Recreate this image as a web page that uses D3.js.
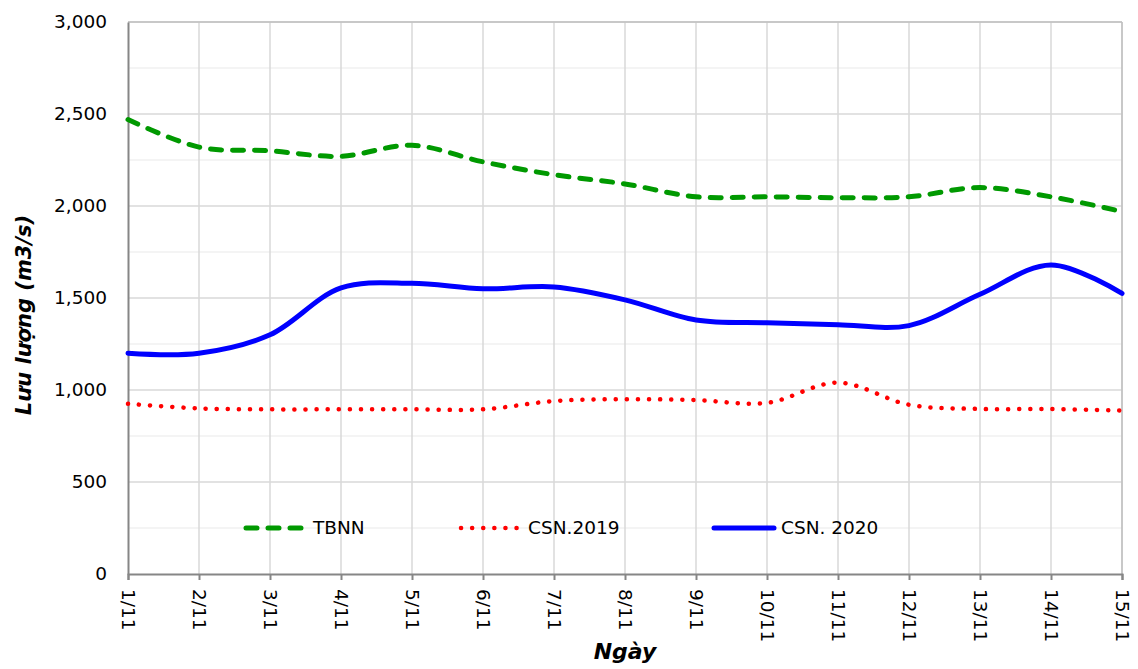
<!DOCTYPE html>
<html>
<head>
<meta charset="utf-8">
<script src="https://cdn.jsdelivr.net/npm/d3@7"></script>
<style>
  body { margin: 0; background: #fff; }
  text { font-family: "DejaVu Sans", Verdana, sans-serif; fill: #000; }
</style>
</head>
<body>
<div id="graph"></div>
<script>
'use strict';

const days = ['1/11', '2/11', '3/11', '4/11', '5/11', '6/11', '7/11', '8/11',
  '9/11', '10/11', '11/11', '12/11', '13/11', '14/11', '15/11'];

const tbnn = [2470, 2320, 2300, 2270, 2330, 2240, 2170, 2120, 2050, 2050, 2045, 2050, 2100, 2050, 1970];
const csn2019 = [925, 900, 895, 895, 895, 895, 940, 950, 945, 930, 1040, 920, 897, 897, 888];
const csn2020 = [1200, 1200, 1300, 1555, 1580, 1550, 1560, 1490, 1380, 1365, 1355, 1350, 1520, 1680, 1525];

const yTicks = [0, 500, 1000, 1500, 2000, 2500, 3000];
const yMinorTicks = [250, 750, 1250, 1750, 2250, 2750];

const series = [
  { name: 'TBNN', values: tbnn, color: '#009900', dash: '11,11', width: 5 },
  { name: 'CSN.2019', values: csn2019, color: '#ff0000', dash: '0.1,11', width: 4.5 },
  { name: 'CSN. 2020', values: csn2020, color: '#0000ff', dash: null, width: 5 },
];

const W = 1138, H = 669;
const plot = { left: 128, right: 1122, top: 22, bottom: 574 };

let svg = d3.select('#graph')
  .append('svg')
  .attr('width', W)
  .attr('height', H);

let x = d3.scalePoint()
  .domain(days)
  .range([plot.left, plot.right]);

let y = d3.scaleLinear()
  .domain([0, 3000])
  .range([plot.bottom, plot.top]);

// grid lines
svg.append('g')
  .selectAll('line')
  .data(yMinorTicks)
  .enter()
  .append('line')
  .attr('x1', plot.left).attr('x2', plot.right)
  .attr('y1', d => y(d)).attr('y2', d => y(d))
  .attr('stroke', '#f0f0f0')
  .attr('stroke-width', 1.5);

svg.append('g')
  .selectAll('line')
  .data(days.slice(1))
  .enter()
  .append('line')
  .attr('x1', d => x(d)).attr('x2', d => x(d))
  .attr('y1', plot.top).attr('y2', plot.bottom)
  .attr('stroke', '#d9d9d9')
  .attr('stroke-width', 1.5);

svg.append('g')
  .selectAll('line')
  .data(yTicks.slice(1))
  .enter()
  .append('line')
  .attr('x1', plot.left).attr('x2', plot.right)
  .attr('y1', d => y(d)).attr('y2', d => y(d))
  .attr('stroke', '#d9d9d9')
  .attr('stroke-width', 1.5);

// right / top border
svg.append('line')
  .attr('x1', plot.right).attr('x2', plot.right)
  .attr('y1', plot.top).attr('y2', plot.bottom)
  .attr('stroke', '#bfbfbf').attr('stroke-width', 1.5);
svg.append('line')
  .attr('x1', plot.left).attr('x2', plot.right)
  .attr('y1', plot.top).attr('y2', plot.top)
  .attr('stroke', '#bfbfbf').attr('stroke-width', 1.5);

// axes
let yAxis = d3.axisLeft(y)
  .tickValues(yTicks)
  .tickSize(0)
  .tickPadding(21)
  .tickFormat(d3.format(','));
let gy = svg.append('g')
  .attr('transform', `translate(${plot.left}, 0)`)
  .call(yAxis);
gy.select('.domain').attr('stroke', '#868686').attr('stroke-width', 2);
gy.selectAll('text').style('font-size', '18.5px').style('font-family', '"DejaVu Sans", sans-serif').attr('fill', '#000');

let xAxis = d3.axisBottom(x)
  .tickSize(6)
  .tickPadding(0);
let gx = svg.append('g')
  .attr('transform', `translate(0, ${plot.bottom})`)
  .call(xAxis);
gx.select('.domain').attr('stroke', '#868686').attr('stroke-width', 2);
gx.selectAll('.tick line').attr('stroke', '#868686').attr('stroke-width', 2);
gx.selectAll('text')
  .style('font-size', '18.5px')
  .style('font-family', '"DejaVu Sans", sans-serif')
  .attr('fill', '#000')
  .attr('y', 0)
  .attr('x', 0)
  .attr('dy', '0.35em')
  .attr('text-anchor', 'start')
  .attr('transform', 'translate(0, 15) rotate(90)');

// lines
let line = d3.line()
  .x((d, i) => x(days[i]))
  .y(d => y(d))
  .curve(d3.curveCatmullRom.alpha(0.5));

series.forEach(s => {
  svg.append('path')
    .datum(s.values)
    .attr('d', line)
    .attr('fill', 'none')
    .attr('stroke', s.color)
    .attr('stroke-width', s.width)
    .attr('stroke-linecap', 'round')
    .attr('stroke-dasharray', s.dash);
});

// legend
const legendX = [246, 461, 714];
const legendY = y(250);
series.forEach((s, i) => {
  let g = svg.append('g').attr('transform', `translate(${legendX[i]}, ${legendY})`);
  g.append('line')
    .attr('x1', 0).attr('x2', 60)
    .attr('stroke', s.color)
    .attr('stroke-width', s.width)
    .attr('stroke-linecap', 'round')
    .attr('stroke-dasharray', s.dash);
  g.append('text')
    .attr('x', 67)
    .attr('dy', '0.35em')
    .style('font-size', '18.5px')
    .text(s.name);
});

// axis titles
svg.append('text')
  .attr('transform', `translate(31, ${(plot.top + plot.bottom) / 2 + 17}) rotate(-90)`)
  .attr('text-anchor', 'middle')
  .style('font-size', '21px')
  .style('font-weight', 'bold')
  .style('font-style', 'italic')
  .text('Lưu lượng (m3/s)');

svg.append('text')
  .attr('x', (plot.left + plot.right) / 2)
  .attr('y', 659)
  .attr('text-anchor', 'middle')
  .style('font-size', '22px')
  .style('font-weight', 'bold')
  .style('font-style', 'italic')
  .text('Ngày');
</script>
</body>
</html>
